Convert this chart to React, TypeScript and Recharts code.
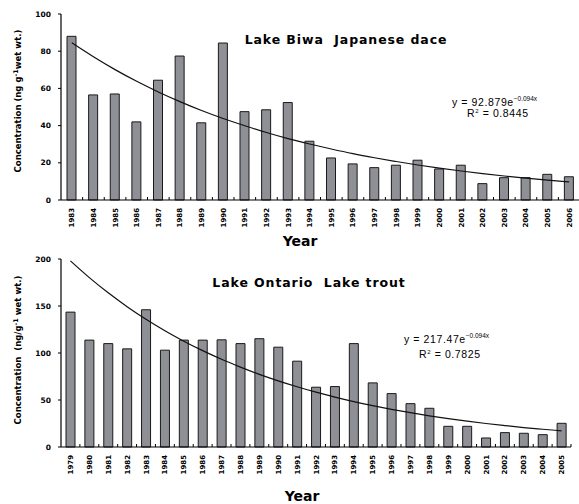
import React from "react";
import { ComposedChart, Bar, Line, XAxis, YAxis } from "recharts";

// Lake Biwa, Japanese dace
const biwaYears = [
  "1983", "1984", "1985", "1986", "1987", "1988", "1989", "1990", "1991", "1992", "1993", "1994",
  "1995", "1996", "1997", "1998", "1999", "2000", "2001", "2002", "2003", "2004", "2005", "2006",
];
const biwaValues = [
  88, 56.5, 57, 42, 64.4, 77.4, 41.5, 84.4, 47.5, 48.5, 52.4, 31.6,
  22.6, 19.4, 17.4, 18.7, 21.4, 16.7, 18.7, 8.8, 12, 12, 13.8, 12.5,
];
const biwaTrend = [
  84.5, 77.0, 70.1, 63.8, 58.1, 52.9, 48.1, 43.8, 39.9, 36.3, 33.0, 30.1,
  27.4, 24.9, 22.7, 20.7, 18.8, 17.1, 15.6, 14.2, 12.9, 11.8, 10.7, 9.7,
];
const biwaTicks = [0, 20, 40, 60, 80, 100];

// Lake Ontario, Lake trout
const ontarioYears = [
  "1979", "1980", "1981", "1982", "1983", "1984", "1985", "1986", "1987", "1988", "1989", "1990",
  "1991", "1992", "1993", "1994", "1995", "1996", "1997", "1998", "1999", "2000", "2001", "2002",
  "2003", "2004", "2005",
];
const ontarioValues = [
  143.5, 113.7, 110, 104.4, 146, 103, 113.7, 113.7, 114, 110, 115.2, 106.2,
  91.3, 63.6, 64.3, 110, 68.2, 56.8, 46.1, 41.2, 22, 22, 9.6, 15.3,
  14.6, 13.1, 25.2,
];
const ontarioTrend = [
  198.0, 180.2, 164.0, 149.3, 135.9, 123.7, 112.6, 102.5, 93.3, 85.0, 77.3, 70.4,
  64.1, 58.3, 53.1, 48.3, 44.0, 40.1, 36.5, 33.2, 30.2, 27.5, 25.0, 22.8,
  20.7, 18.9, 17.2,
];
const ontarioTicks = [0, 50, 100, 150, 200];

const boldFont = "'DejaVu Sans', sans-serif";
const plainFont = "'Liberation Sans', Arial, sans-serif";

// rotated year label plus a small inward tick at the right edge of each band
const YearTick = (props: any) => {
  const { x, y, payload, step } = props;
  return (
    <g transform={`translate(${x},${y})`}>
      <line x1={step / 2} y1={0} x2={step / 2} y2={-3} stroke="#000" />
      <text
        transform="rotate(-90)"
        x={-8}
        y={2.5}
        textAnchor="end"
        fontSize={7}
        fontWeight="bold"
        fontFamily={boldFont}
        fill="#000"
      >
        {payload.value}
      </text>
    </g>
  );
};

interface PanelProps {
  years: string[];
  values: number[];
  trend: number[];
  ticks: number[];
  width: number;
  height: number;
  margin: { top: number; right: number; bottom: number; left: number };
  xHeight: number;
}

const Panel: React.FC<PanelProps> = ({ years, values, trend, ticks, width, height, margin, xHeight }) => {
  const data = years.map((year, i) => ({ year, value: values[i], trend: trend[i] }));
  const step = (width - margin.left - margin.right - 61) / years.length;
  return (
    <ComposedChart width={width} height={height} data={data} margin={margin}>
      <XAxis
        dataKey="year"
        interval={0}
        height={xHeight}
        tickSize={0}
        tickMargin={0}
        tickLine={false}
        axisLine={{ stroke: "#000", strokeWidth: 1.2 }}
        tick={(p: any) => <YearTick {...p} step={step} />}
      />
      <YAxis
        domain={[ticks[0], ticks[ticks.length - 1]]}
        ticks={ticks}
        interval={0}
        width={61}
        tickSize={3}
        tickMargin={7}
        axisLine={{ stroke: "#000", strokeWidth: 1.2 }}
        tickLine={{ stroke: "#000" }}
        tick={{ fontSize: 7.5, fontWeight: "bold", fill: "#000", fontFamily: boldFont }}
      />
      <Bar dataKey="value" fill="#8f9096" stroke="#1a1a1a" strokeWidth={1} barSize={9} isAnimationActive={false} />
      <Line dataKey="trend" type="monotone" stroke="#111" strokeWidth={1.2} dot={false} isAnimationActive={false} />
    </ComposedChart>
  );
};

const App: React.FC = () => {
  return (
    <div style={{ position: "absolute", left: 0, top: 0, width: 579, height: 504, background: "#fff", overflow: "hidden" }}>
      <div style={{ position: "absolute", left: 0, top: 0 }}>
        <Panel
          years={biwaYears}
          values={biwaValues}
          trend={biwaTrend}
          ticks={biwaTicks}
          width={580}
          height={250}
          margin={{ top: 14, right: 0, bottom: 0, left: 0 }}
          xHeight={50}
        />
        <svg width={580} height={250} style={{ position: "absolute", left: 0, top: 0, pointerEvents: "none" }}>
          <text transform="translate(21,101) rotate(-90)" textAnchor="middle" fontSize={8.5} fontWeight="bold" fontFamily={boldFont}>
            Concentration (ng g<tspan dy={-3} fontSize={6.5}>-1</tspan><tspan dy={3}>wet wt.)</tspan>
          </text>
          <text x={346} y={44} textAnchor="middle" fontSize={12.5} fontWeight="bold" fontFamily={boldFont} letterSpacing={0.9}>
            Lake Biwa{"\u00a0\u00a0"}Japanese dace
          </text>
          <text x={452} y={106} fontSize={10.5} fontFamily={plainFont} letterSpacing={0.6}>
            y = 92.879e<tspan dy={-5} fontSize={6.5} letterSpacing={0}>−0.094x</tspan>
          </text>
          <text x={467} y={117} fontSize={10.5} fontFamily={plainFont} letterSpacing={0.6}>
            R<tspan dy={-4} fontSize={6}>2</tspan><tspan dy={4}> = 0.8445</tspan>
          </text>
          <text x={300} y={246} textAnchor="middle" fontSize={14} fontWeight="bold" fontFamily={boldFont}>
            Year
          </text>
        </svg>
      </div>
      <div style={{ position: "absolute", left: 0, top: 250 }}>
        <Panel
          years={ontarioYears}
          values={ontarioValues}
          trend={ontarioTrend}
          ticks={ontarioTicks}
          width={580}
          height={254}
          margin={{ top: 9, right: 9, bottom: 0, left: 0 }}
          xHeight={57}
        />
        <svg width={580} height={254} style={{ position: "absolute", left: 0, top: 0, pointerEvents: "none" }}>
          <text transform="translate(21,100) rotate(-90)" textAnchor="middle" fontSize={8.5} fontWeight="bold" fontFamily={boldFont}>
            Concentration{"\u00a0\u00a0"}(ng/g<tspan dy={-3} fontSize={6.5}>-1</tspan><tspan dy={3}> wet wt.)</tspan>
          </text>
          <text x={309} y={37} textAnchor="middle" fontSize={12.5} fontWeight="bold" fontFamily={boldFont} letterSpacing={0.9}>
            Lake Ontario{"\u00a0\u00a0"}Lake trout
          </text>
          <text x={404} y={93} fontSize={10.5} fontFamily={plainFont} letterSpacing={0.6}>
            y = 217.47e<tspan dy={-5} fontSize={6.5} letterSpacing={0}>−0.094x</tspan>
          </text>
          <text x={419} y={108} fontSize={10.5} fontFamily={plainFont} letterSpacing={0.6}>
            R<tspan dy={-4} fontSize={6}>2</tspan><tspan dy={4}> = 0.7825</tspan>
          </text>
          <text x={302} y={251} textAnchor="middle" fontSize={14} fontWeight="bold" fontFamily={boldFont}>
            Year
          </text>
        </svg>
      </div>
    </div>
  );
};

export default App;
